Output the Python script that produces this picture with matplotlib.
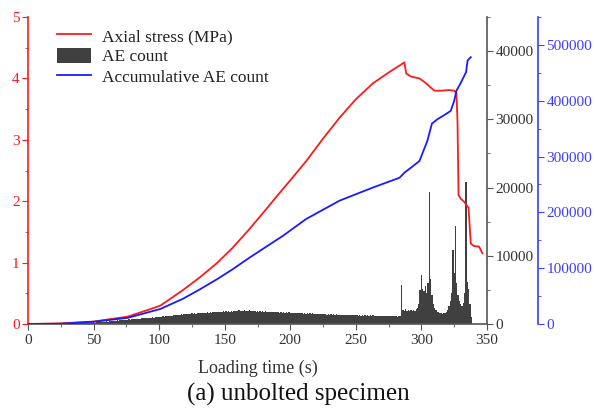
import numpy as np
import matplotlib
matplotlib.use("Agg")
import matplotlib.pyplot as plt
from matplotlib.patches import Patch
from matplotlib.lines import Line2D
from matplotlib.ticker import MultipleLocator

plt.rcParams['font.family'] = ['Liberation Serif', 'DejaVu Serif']

# ---- data ----
stress_t = [0, 25, 50, 76, 93, 101, 118, 131, 144, 156, 169, 182, 194, 200, 212, 225, 237.6,
            250, 263, 276, 287, 288.4, 292, 298.5, 303, 309.8, 315, 321, 325, 326.7, 327.5,
            328.3, 330, 332.6, 335.9, 336.8, 337.6, 340, 344, 346.5]
stress = [0, 0.01, 0.04, 0.12, 0.24, 0.30, 0.55, 0.76, 0.99, 1.24, 1.55, 1.88, 2.19, 2.34, 2.65,
          3.02, 3.36, 3.66, 3.92, 4.11, 4.26, 4.08, 4.03, 4.00, 3.93, 3.80, 3.80, 3.81, 3.80,
          3.76, 3.3, 2.1, 2.04, 1.99, 1.89, 1.6, 1.31, 1.27, 1.26, 1.15]

cum_t = [0, 25, 50, 76, 101, 118, 131, 144, 156, 169, 182, 194.4, 212, 237.6, 263, 283.3, 287,
         292, 298.5, 304.5, 308, 312.3, 318.6, 322.4, 325, 326.7, 330, 334, 335.2, 337.6]
cum_ae = [0, 500, 4000, 11000, 27000, 45000, 62000, 80000, 98000, 119000, 139000, 158000,
          188000, 221000, 244500, 262000, 271000, 280000, 292000, 328000, 359000, 367000,
          376000, 382000, 400000, 418000, 432000, 451000, 472000, 478000]

ae_count = (
    [0, 0, 0, 0, 0, 0, 0, 0, 0, 0]
    + [0, 0, 10, 0, 10, 20, 10, 20, 20, 30]
    + [20, 30, 40, 30, 40, 50, 40, 50, 60, 50]
    + [60, 70, 60, 80, 70, 90, 80, 100, 90, 110]
    + [120, 110, 140, 130, 160, 150, 180, 170, 200, 190]
    + [220, 210, 250, 240, 280, 300, 290, 330, 320, 360]
    + [380, 350, 420, 400, 450, 430, 480, 460, 520, 500]
    + [540, 520, 580, 600, 560, 630, 610, 660, 640, 700]
    + [680, 730, 710, 760, 740, 800, 780, 830, 810, 860]
    + [840, 900, 870, 930, 910, 960, 940, 1000, 980, 1040]
    + [1000, 1080, 1050, 1120, 1090, 1160, 1130, 1200, 1170, 1240]
    + [1210, 1280, 1250, 1320, 1290, 1360, 1330, 1400, 1370, 1440]
    + [1410, 1480, 1450, 1520, 1460, 1540, 1500, 1580, 1520, 1600]
    + [1550, 1620, 1570, 1660, 1600, 1680, 1620, 1700, 1640, 1720]
    + [1660, 1750, 1690, 1780, 1700, 1800, 1720, 1820, 1750, 1850]
    + [1760, 1880, 1790, 1900, 1800, 1940, 1820, 1900, 1840, 1960]
    + [1850, 2000, 1860, 1950, 1870, 2050, 1880, 1960, 1870, 1990]
    + [1860, 1940, 1850, 1920, 1830, 1900, 1810, 1880, 1800, 1860]
    + [1780, 1840, 1760, 1820, 1740, 1800, 1720, 1780, 1700, 1760]
    + [1690, 1750, 1680, 1740, 1660, 1720, 1650, 1700, 1640, 1690]
    + [1620, 1680, 1600, 1660, 1580, 1640, 1560, 1620, 1550, 1600]
    + [1530, 1590, 1510, 1570, 1500, 1560, 1480, 1540, 1470, 1520]
    + [1450, 1510, 1440, 1490, 1420, 1480, 1400, 1460, 1390, 1450]
    + [1380, 1430, 1360, 1420, 1350, 1400, 1340, 1390, 1330, 1380]
    + [1320, 1370, 1300, 1360, 1290, 1340, 1280, 1330, 1270, 1320]
    + [1260, 1310, 1240, 1300, 1230, 1290, 1220, 1280, 1210, 1270]
    + [1200, 1260, 1190, 1250, 1180, 1240, 1170, 1230, 1160, 1220]
    + [1150, 1210, 1140, 1200, 1130, 1190, 1120, 1180, 1110, 1170]
    + [1100, 1160, 1090, 1150, 1120]
    + [5700]
    + [2100, 1900, 2200, 1950, 2050, 1850, 2000, 1900, 2100, 1950, 2200, 2400, 3000]
    + [5000, 7200, 5200, 4800, 5600, 4600, 6000, 19300, 6600, 4200, 3000]
    + [2400, 2000, 1800, 1700, 1600, 1550, 1500, 1550, 1650, 1800]
    + [2100, 2600, 3400, 4600, 10900, 7500, 14300, 6000, 4200, 3300]
    + [2900, 2700, 3100, 4500, 20800, 6200, 5200, 3000, 1000]
)
ae_time = np.arange(len(ae_count))

x_ticks = [0, 50, 100, 150, 200, 250, 300, 350]

RED = '#ff1a1a'
BLUE = '#1a1aff'
BLUE_AX = '#3c3cff'
GRAY = '#404040'
AXGRAY = '#555555'

fig = plt.figure(figsize=(5.95, 4.19), dpi=100)
ax1 = fig.add_axes([28/595, 1-324/419, (487-28)/595, (324-17)/419])
ax2 = ax1.twinx()
ax3 = ax1.twinx()

ax2.bar(ae_time, ae_count, width=1.0, color=GRAY, edgecolor='none', align='center')
ax1.plot(stress_t, stress, color=RED, lw=1.3)
ax3.plot(cum_t, cum_ae, color=BLUE, lw=1.3)

ax2.set_zorder(1)
ax1.set_zorder(2)
ax3.set_zorder(3)
ax1.patch.set_visible(False)
ax3.patch.set_visible(False)

ax1.set_xlim(0, 350)
ax1.set_ylim(0, 5)
ax2.set_ylim(0, 45000)
ax3.set_ylim(0, 550000)

ax1.set_xticks(x_ticks)
ax1.xaxis.set_minor_locator(MultipleLocator(25))
ax1.yaxis.set_major_locator(MultipleLocator(1))
ax1.yaxis.set_minor_locator(MultipleLocator(0.5))
ax2.yaxis.set_major_locator(MultipleLocator(10000))
ax2.yaxis.set_minor_locator(MultipleLocator(5000))
ax3.yaxis.set_major_locator(MultipleLocator(100000))
ax3.yaxis.set_minor_locator(MultipleLocator(50000))

for ax in (ax1, ax2, ax3):
    ax.spines['top'].set_visible(False)

ax1.spines['right'].set_visible(False)
ax1.spines['left'].set_color(RED)
ax1.spines['bottom'].set_color(AXGRAY)
ax2.spines['left'].set_visible(False)
ax2.spines['bottom'].set_visible(False)
ax2.spines['right'].set_color(AXGRAY)
ax3.spines['left'].set_visible(False)
ax3.spines['bottom'].set_visible(False)
ax3.spines['right'].set_color(BLUE_AX)
ax3.spines['right'].set_position(('outward', 36.7))
for ax in (ax1, ax2, ax3):
    for s in ax.spines.values():
        s.set_linewidth(1.2)

LS = 11
ax1.tick_params(axis='y', which='both', colors=RED, labelcolor=RED, labelsize=LS, direction='out')
ax1.tick_params(axis='y', which='major', length=4, pad=2)
ax1.tick_params(axis='y', which='minor', length=2.5)
ax1.tick_params(axis='x', which='both', colors=AXGRAY, labelcolor='#333333', labelsize=LS, direction='out')
ax1.tick_params(axis='x', which='major', length=4)
ax1.tick_params(axis='x', which='minor', length=2.5)
ax2.tick_params(axis='y', which='both', colors=AXGRAY, labelcolor='#333333', labelsize=LS, direction='out')
ax2.tick_params(axis='y', which='major', length=4, pad=2)
ax2.tick_params(axis='y', which='minor', length=2.5)
ax3.tick_params(axis='y', which='both', colors=BLUE_AX, labelcolor=BLUE_AX, labelsize=LS, direction='out')
ax3.tick_params(axis='y', which='major', length=4, pad=2)
ax3.tick_params(axis='y', which='minor', length=2.5)

ax1.set_xlabel('Loading time (s)', fontsize=13, color='#333333', labelpad=9)

handles = [Line2D([], [], color=RED, lw=1.3),
           Patch(facecolor=GRAY, edgecolor='none'),
           Line2D([], [], color=BLUE, lw=1.3)]
labels = ['Axial stress (MPa)', 'AE count', 'Accumulative AE count']
leg = ax3.legend(handles, labels, loc='upper left', bbox_to_anchor=(0.04, 1.0), frameon=False,
                 fontsize=12.5, handlelength=2.0, handleheight=1.0, labelspacing=0.15,
                 handletextpad=0.6, borderaxespad=0.2)
for t in leg.get_texts():
    t.set_color('#222222')

fig.text(298/595, 1-394/419, '(a) unbolted specimen', ha='center', va='center', fontsize=18, color='#111111')

fig.savefig('out.png', dpi=100)
